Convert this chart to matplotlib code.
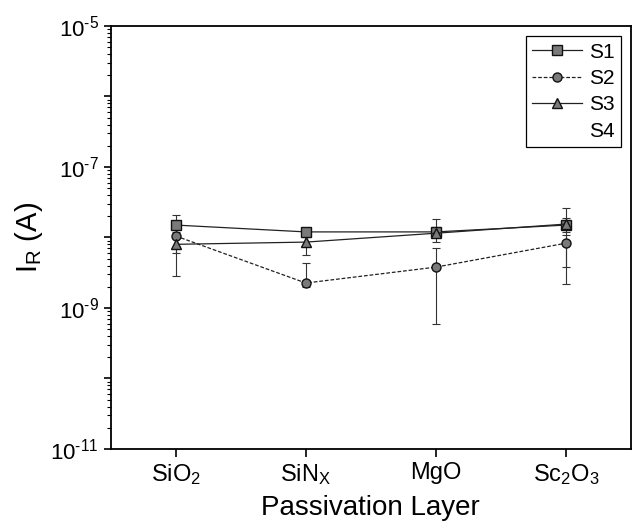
import numpy as np
import matplotlib
matplotlib.use("Agg")
import matplotlib.pyplot as plt
from matplotlib.lines import Line2D
from matplotlib.ticker import LogLocator, FixedLocator, FuncFormatter, NullFormatter

plt.rcParams["font.family"] = ["Liberation Sans", "DejaVu Sans"]
plt.rcParams["mathtext.fontset"] = "custom"
plt.rcParams["mathtext.rm"] = "Liberation Sans"
plt.rcParams["mathtext.it"] = "Liberation Sans:italic"
plt.rcParams["mathtext.bf"] = "Liberation Sans:bold"
plt.rcParams["mathtext.default"] = "regular"
plt.rcParams["axes.unicode_minus"] = False

# passivation layers
layers = ["SiO$_2$", "SiN$_X$", "MgO", "Sc$_2$O$_3$"]

# reverse current I_R (A) and error bar bounds
s1 = [1.5e-8, 1.2e-8, 1.2e-8, 1.5e-8]
s1_lo = [1.2e-8, 1.0e-8, 1.0e-8, 1.2e-8]
s1_hi = [2.1e-8, 1.35e-8, 1.4e-8, 2.6e-8]

s2 = [1.05e-8, 2.26e-9, 3.8e-9, 8.3e-9]
s2_lo = [2.85e-9, 2.0e-9, 5.9e-10, 2.2e-9]
s2_hi = [1.3e-8, 4.4e-9, 7.0e-9, 1.1e-8]

s3 = [8.0e-9, 8.6e-9, 1.15e-8, 1.55e-8]
s3_lo = [6.0e-9, 5.6e-9, 8.6e-9, 3.8e-9]
s3_hi = [1.1e-8, 1.0e-8, 1.8e-8, 1.9e-8]

series = [
    ("S1", s1, s1_lo, s1_hi, "s", "-"),
    ("S2", s2, s2_lo, s2_hi, "o", (0, (3, 1.5))),
    ("S3", s3, s3_lo, s3_hi, "^", "-"),
]

fig = plt.figure(figsize=(6.34, 5.26), dpi=100)
ax = fig.add_axes([0.1746, 0.1464, 0.8207, 0.8042])

x = np.arange(len(layers))
handles = []
for name, y, lo, hi, mk, ls in series:
    y = np.array(y)
    err = [y - np.array(lo), np.array(hi) - y]
    ax.errorbar(x, y, yerr=err, fmt="none", ecolor="#333333", elinewidth=0.8,
                capsize=3, capthick=0.8, zorder=2)
    ms = 6.5 if mk != "^" else 7.5
    h, = ax.plot(x, y, linestyle=ls, color="#222222", linewidth=0.9,
                 marker=mk, markersize=ms, markerfacecolor="#7a7a7a",
                 markeredgecolor="#111111", markeredgewidth=1.0, label=name, zorder=3)
    handles.append(h)
handles.append(Line2D([], [], linestyle="none", marker="none", label="S4"))

ax.set_yscale("log")
ax.set_ylim(1e-11, 1e-5)
ax.set_xlim(-0.5, 3.5)
ax.yaxis.set_major_locator(FixedLocator([10.0 ** e for e in range(-11, -4)]))


def fmt_exp(v, pos):
    e = round(np.log10(v))
    if e % 2 == 0:
        return ""
    return "10$^{\\text{-%d}}$" % abs(e)


ax.yaxis.set_major_formatter(FuncFormatter(fmt_exp))
ax.yaxis.set_minor_locator(LogLocator(base=10, subs=np.arange(2, 10), numticks=20))
ax.yaxis.set_minor_formatter(NullFormatter())

ax.set_xticks(x)
ax.set_xticklabels(layers)
ax.tick_params(axis="y", which="major", labelsize=16, direction="out", length=5, width=1.2)
ax.tick_params(axis="x", which="major", labelsize=17, direction="out", length=6, width=1.2)
ax.tick_params(axis="y", which="minor", direction="out", length=3, width=0.8)
for s in ax.spines.values():
    s.set_linewidth(1.3)

ax.set_xlabel("Passivation Layer", fontsize=20, labelpad=6)
ax.set_ylabel("I$_R$ (A)", fontsize=21, labelpad=4)

leg = ax.legend(handles=handles, loc="upper right", fontsize=15, frameon=True,
                fancybox=False, edgecolor="black", framealpha=1, numpoints=1,
                handlelength=2.4, handletextpad=0.3, borderpad=0.3, labelspacing=0.35,
                borderaxespad=0.5)
leg.get_frame().set_linewidth(0.9)

fig.savefig("out.png", dpi=100)
